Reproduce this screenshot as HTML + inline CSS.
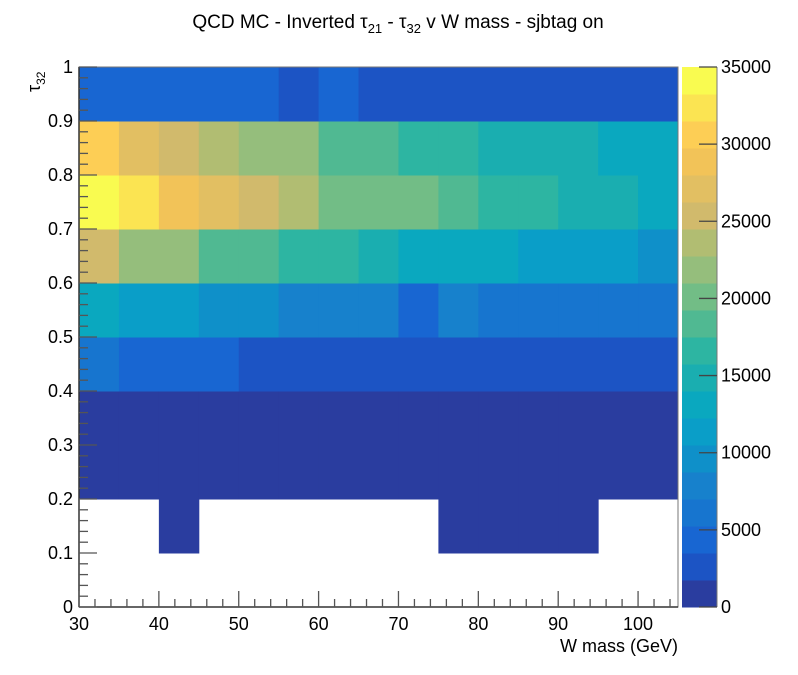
<!DOCTYPE html>
<html><head><meta charset="utf-8"><style>
body{margin:0;background:#fff;}
svg{display:block;font-family:"Liberation Sans",Arial,sans-serif;}
</style></head><body>
<svg id="chart" width="798" height="675" viewBox="0 0 798 675">
<text x="398" y="28" text-anchor="middle" font-size="19">QCD MC - Inverted τ<tspan font-size="13" dy="5">21</tspan><tspan dy="-5"> - τ</tspan><tspan font-size="13" dy="5">32</tspan><tspan dy="-5"> v W mass - sjbtag on</tspan></text>
<g id="cells"></g>
<g id="axes"></g>
<g id="cbar"></g>
<text x="678" y="652" text-anchor="end" font-size="18">W mass (GeV)</text>
<text transform="translate(40,92) rotate(-90)" font-size="18">τ<tspan font-size="12" dy="5">32</tspan></text>
</svg>
<script>
const xEdges=[30,35,40,45,50,55,60,65,70,75,80,85,90,95,100,105];
const yEdges=[0,0.1,0.2,0.3,0.4,0.5,0.6,0.7,0.8,0.9,1.0];
// rows from y=0.0 bin upward; values in counts (null = empty)
const row00=[null,null,null,null,null,null,null,null,null,null,null,null,null,null,null];
const row01=[null,null,875,null,null,null,null,null,null,875,875,875,875,null,null];
const row02=[875,875,875,875,875,875,875,875,875,875,875,875,875,875,875];
const row03=[875,875,875,875,875,875,875,875,875,875,875,875,875,875,875];
const row04=[6100,4400,4400,4400,2600,2600,2600,2600,2600,2600,2600,2600,2600,2600,2600];
const row05=[13100,11400,11400,9600,9600,7900,7900,7900,4400,7900,6100,6100,6100,6100,6100];
const row06=[25400,21900,21900,18400,18400,16600,16600,14900,13100,13100,13100,11400,11400,11400,9600];
const row07=[34100,32400,28900,27100,25400,23600,20100,20100,20100,18400,16600,16600,14900,14900,13100];
const row08=[30600,27100,25400,23600,21900,21900,18400,18400,16600,16600,14900,14900,14900,13100,13100];
const row09=[4400,4400,4400,4400,4400,2600,4400,2600,2600,2600,2600,2600,2600,2600,2600];
const zMax=35000;
const cbTicks=[0,5000,10000,15000,20000,25000,30000,35000];
const xTicks=[30,40,50,60,70,80,90,100];
const yTicks=[0,0.1,0.2,0.3,0.4,0.5,0.6,0.7,0.8,0.9,1];
const palette=["#2a3d9f","#1c54c4","#1866d2","#1775cf","#1781cc","#0f90c9","#0a9ec8","#0aa8bf","#1aaeb0","#2db5a2","#50b992","#72bd86","#95be7c","#b1bd72","#d1ba6c","#e2bf62","#f2c358","#fdce55","#fbe452","#f9fb50"];
const rows=[row00,row01,row02,row03,row04,row05,row06,row07,row08,row09];
const X0=79,X1=678,Y0=607,Y1=67;
const sx=v=>X0+(v-30)/(105-30)*(X1-X0);
const sy=v=>Y0-(v-0)/(1-0)*(Y0-Y1);
const NS="http://www.w3.org/2000/svg";
function mk(tag,attrs,parent){const e=document.createElementNS(NS,tag);for(const k in attrs)e.setAttribute(k,attrs[k]);parent.appendChild(e);return e;}
function col(v){let i=Math.floor(v/zMax*palette.length);if(i<0)i=0;if(i>=palette.length)i=palette.length-1;return palette[i];}
const cells=document.getElementById('cells');
rows.forEach((r,j)=>r.forEach((v,i)=>{
  if(v===null)return;
  const x=sx(xEdges[i]),x2=sx(xEdges[i+1]),y=sy(yEdges[j+1]),y2=sy(yEdges[j]);
  const e=mk('rect',{x:x,y:y,width:x2-x+0.5,height:y2-y+0.5,fill:col(v)},cells);
  
  
}));
const ax=document.getElementById('axes');
const fr=mk('rect',{x:X0,y:Y1,width:X1-X0,height:Y0-Y1,fill:'none',stroke:'#777','stroke-width':1},ax);


mk('line',{x1:X0,y1:Y0,x2:X1,y2:Y0,stroke:'#333','stroke-width':1.5},ax);
mk('line',{x1:X0,y1:Y0,x2:X0,y2:Y1,stroke:'#333','stroke-width':1.5},ax);
for(let v=30;v<=105.001;v+=2.5){
  const maj=Math.abs(v%10)<0.01;const half=Math.abs(v%5)<0.01;
  if(!half && false)continue;
}
for(let k=0;k<=37;k++){const v=30+k*2;if(v>105)break;const maj=(v%10===0);
  mk('line',{x1:sx(v),y1:Y0,x2:sx(v),y2:Y0-(maj?16:8),stroke:'#555','stroke-width':1.3},ax);}
for(let k=0;k<=50;k++){const v=k*0.02;const maj=(k%5===0);
  mk('line',{x1:X0,y1:sy(v),x2:X0+(maj?18:9),y2:sy(v),stroke:'#555','stroke-width':1.3},ax);}
xTicks.forEach(t=>{const e=mk('text',{x:sx(t),y:630,'text-anchor':'middle','font-size':18},ax);e.textContent=t;
  });
yTicks.forEach(t=>{const e=mk('text',{x:73,y:sy(t)+6,'text-anchor':'end','font-size':18},ax);e.textContent=String(t);
  });
const cb=document.getElementById('cbar');
const CX=682,CW=35;
const cy=v=>Y0-v/zMax*(Y0-Y1);
palette.forEach((c,i)=>{const a=i*zMax/palette.length,b=(i+1)*zMax/palette.length;
  const e=mk('rect',{x:CX,y:cy(b),width:CW,height:cy(a)-cy(b)+0.5,fill:c},cb);
  });
mk('line',{x1:CX+CW,y1:Y1,x2:CX+CW,y2:Y0,stroke:'#777','stroke-width':1},cb);
cbTicks.forEach(t=>{mk('line',{x1:CX+CW,y1:cy(t),x2:CX+CW-18,y2:cy(t),stroke:'#444','stroke-width':1.3},cb);
  const e=mk('text',{x:721,y:cy(t)+6,'font-size':18},cb);e.textContent=t;
  });
</script>
</body></html>
